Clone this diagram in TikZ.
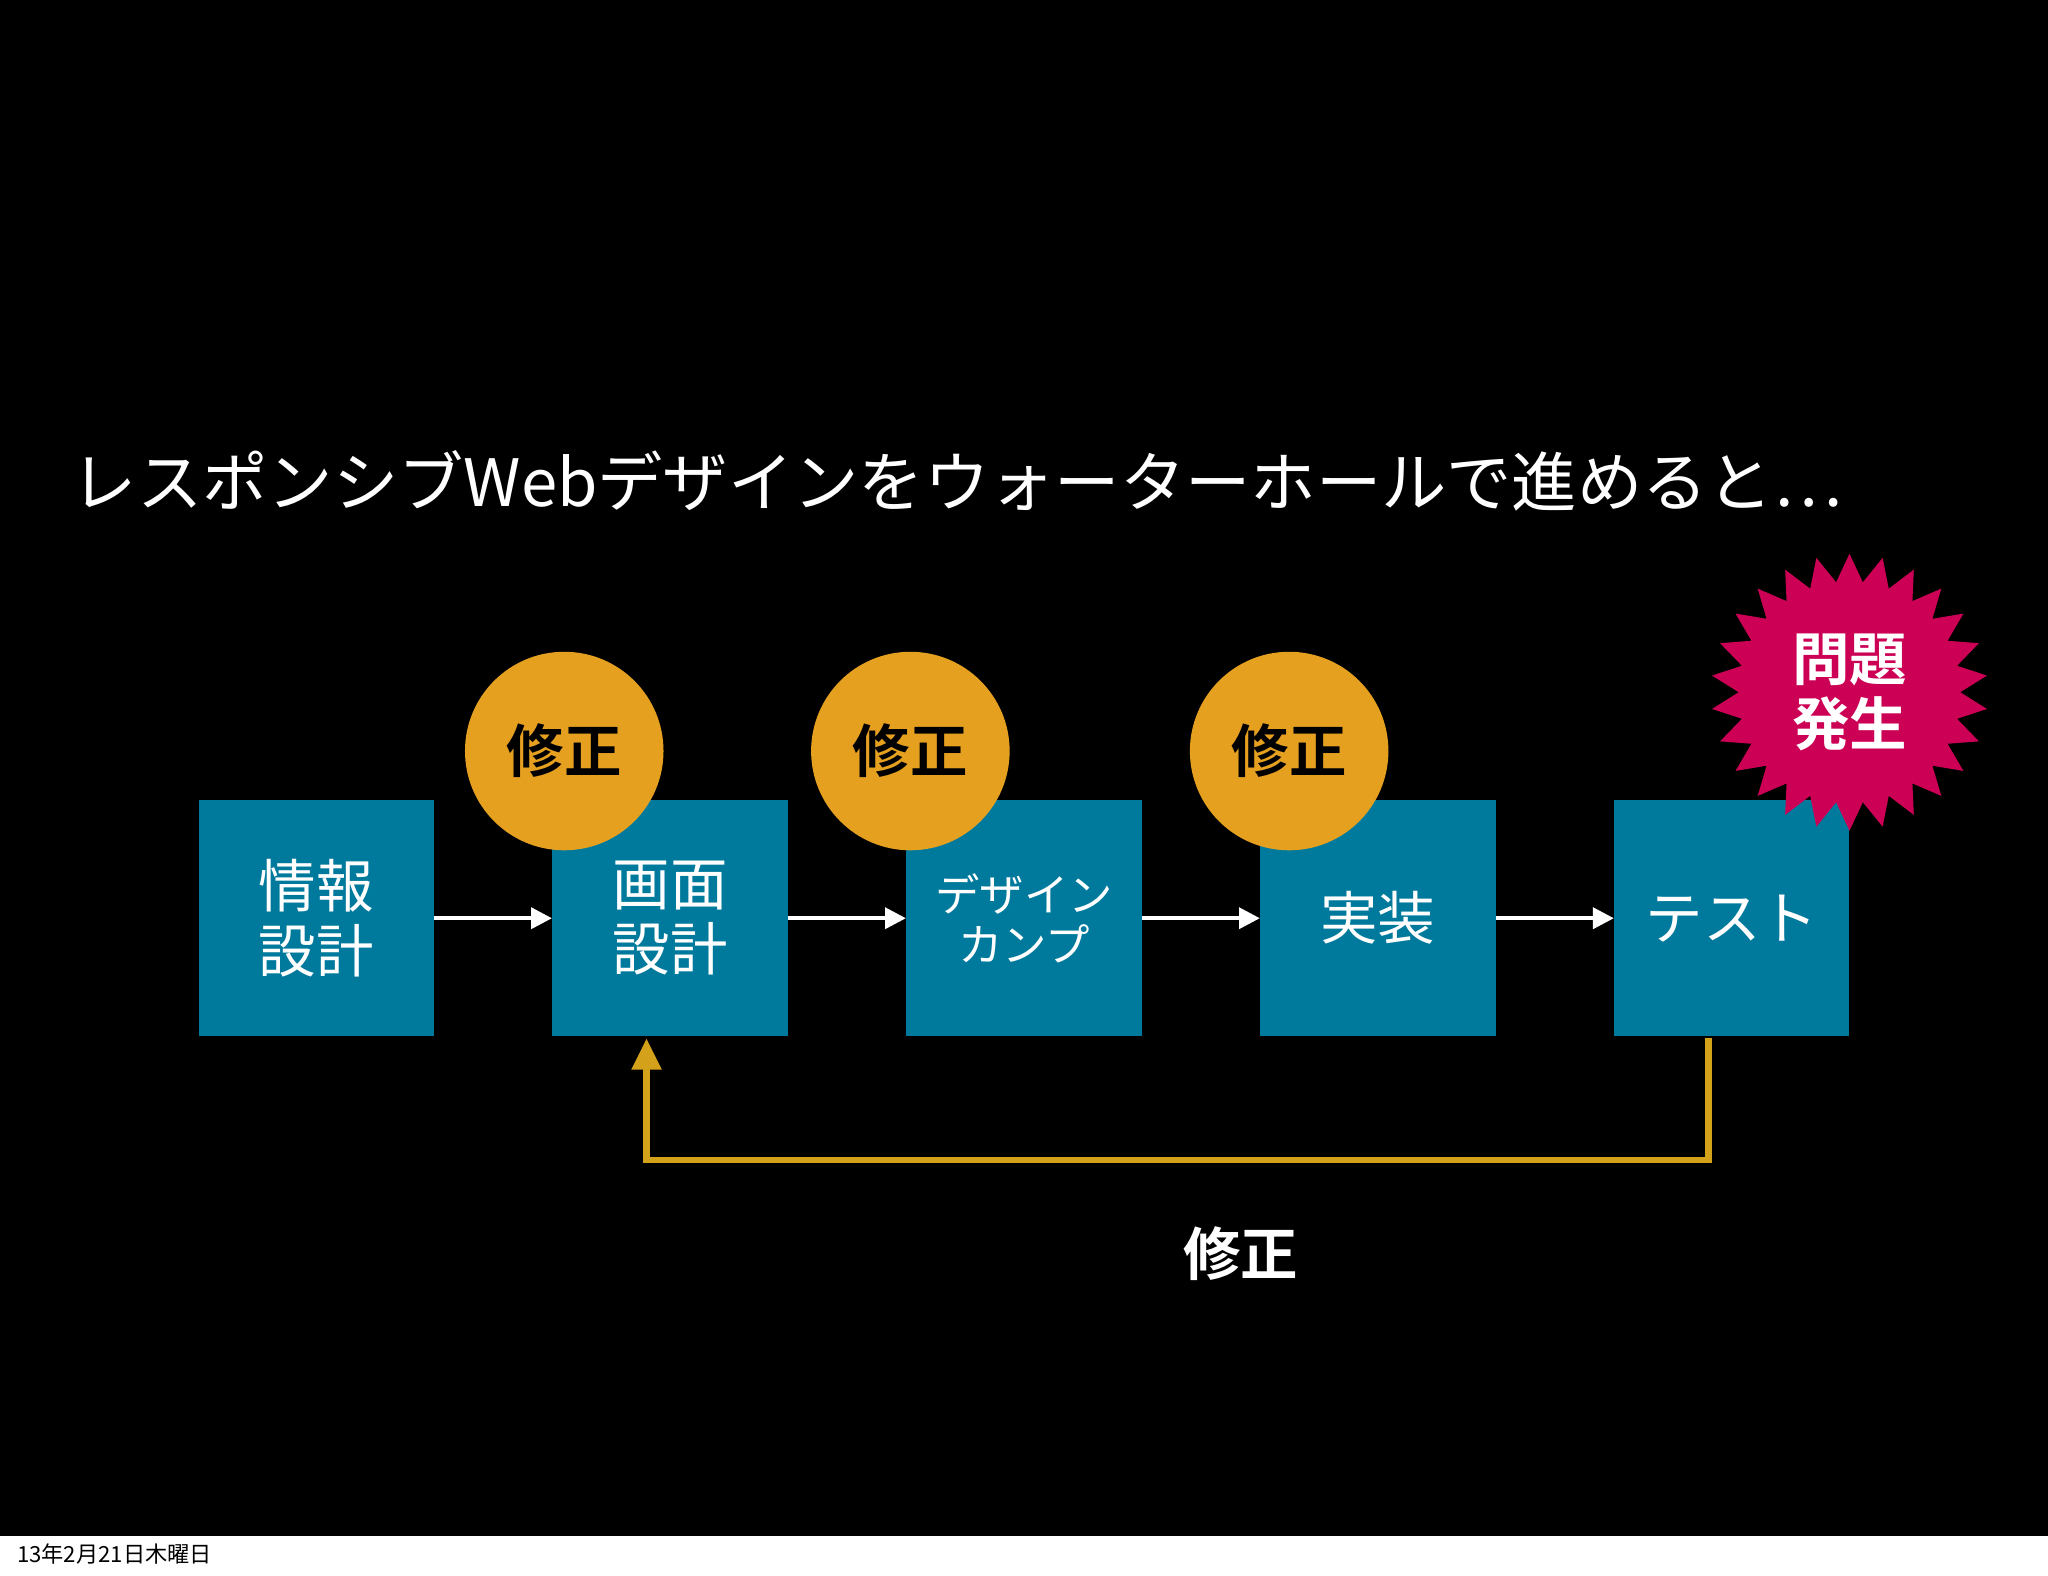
\documentclass[tikz,border=0pt]{standalone}
\usepackage{fontspec}
\newfontfamily\jp{Noto Sans CJK JP}
\newfontfamily\jpb{Noto Sans CJK JP Bold}
\usetikzlibrary{shapes.geometric,arrows.meta}
\definecolor{teal1}{HTML}{007A9C}
\definecolor{orng}{HTML}{E6A020}
\definecolor{gold}{HTML}{D4A21A}
\definecolor{mag}{HTML}{CC0055}
\tikzset{
 stage/.style={fill=teal1,minimum width=90pt,minimum height=90.5pt,inner sep=0,text=white,font=\jp\fontsize{22}{25}\selectfont,align=center},
 fix/.style={circle,fill=orng,minimum size=76pt,inner sep=0,font=\jpb\fontsize{22}{25}\selectfont,text=black},
 flow/.style={white,line width=1.5pt,-{Triangle[length=8pt,width=8pt]}}
}
\begin{document}
\begin{tikzpicture}[x=0.5pt,y=-0.5pt]
\fill[white] (0,0) rectangle (1568,1206);
\fill[black] (0,0) rectangle (1568,1176);
\node[anchor=west,text=white,font=\jp\fontsize{25}{28}\selectfont] (title) at (48,368) {レスポンシブWebデザインをウォーターホールで進めると…};
\node[stage] (a) at (242,703) {情報\\設計};
\node[stage] (b) at (513,703) {画面\\設計};
\node[stage,font=\jp\fontsize{17}{19}\selectfont] (c) at (784,703) {デザイン\\カンプ};
\node[stage] (d) at (1055,703) {実装};
\node[stage] (e) at (1326,703) {テスト};
\node[fix] (f1) at (432,575) {修正};
\node[fix] (f2) at (697,575) {修正};
\node[fix] (f3) at (987,575) {修正};
\node[star,star points=26,star point ratio=1.25,fill=mag,minimum size=106pt,inner sep=0,text=white,font=\jpb\fontsize{22}{25}\selectfont,align=center] (prob) at (1416,530) {問題\\発生};
\draw[flow] (a) -- (b);
\draw[flow] (b) -- (c);
\draw[flow] (c) -- (d);
\draw[flow] (d) -- (e);
\coordinate (eb) at (1308,795);
\coordinate (bb) at (495,795);
\draw[gold,line width=2.5pt,-{Triangle[length=12pt,width=11pt]}] (eb) -- (1308,888) -- (495,888) -- (bb);
\node[text=white,font=\jpb\fontsize{22}{25}\selectfont] (lbl) at (950,960) {修正};
\node[anchor=west,font=\jp\fontsize{8.5}{10}\selectfont] (date) at (6,1190) {13年2月21日木曜日};
\end{tikzpicture}
\end{document}
